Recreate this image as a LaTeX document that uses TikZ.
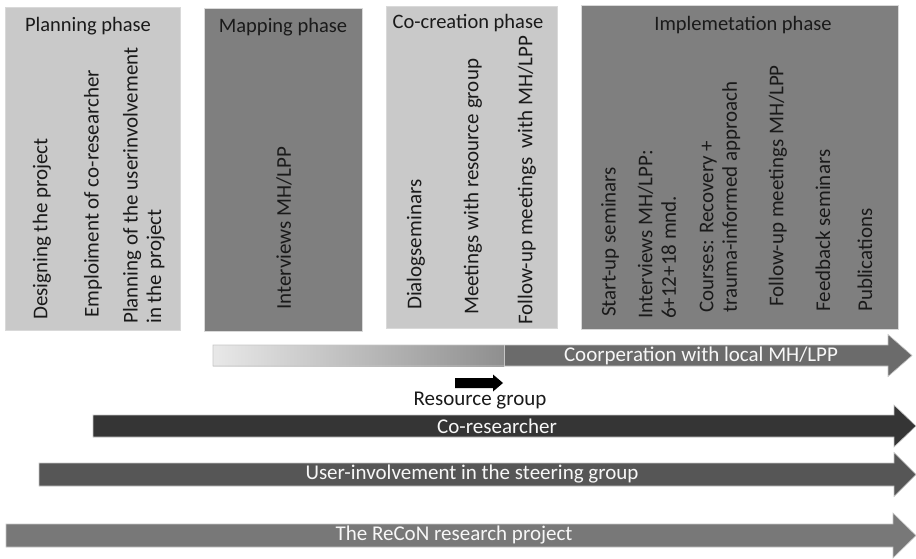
\documentclass[tikz,border=0pt]{standalone}
\usepackage{fontspec}
\setmainfont{Carlito}
\usetikzlibrary{positioning}
\definecolor{lightphase}{HTML}{C9C9C9}
\definecolor{darkphase}{HTML}{7F7F7F}
\definecolor{coopbar}{HTML}{6B6B6B}
\definecolor{cobar}{HTML}{353535}
\definecolor{userbar}{HTML}{565656}
\definecolor{reconbar}{HTML}{787878}
\definecolor{inktext}{HTML}{1A1A1A}
\tikzset{
  phasebox/.style={draw=gray!30, line width=0.8pt},
  phasetitle/.style={font=\fontsize{20.5}{24}\selectfont, text=inktext},
  activity/.style={rotate=90, anchor=west, align=left, inner sep=0pt,
    font=\fontsize{21}{23.5}\selectfont, text=inktext},
  barlabel/.style={font=\fontsize{21}{24}\selectfont, text=white!94!gray},
  baredge/.style={draw=gray!45, line width=0.6pt}
}
% block arrow: left, tip, mid y, half body, half head, head length, style
\newcommand{\bararrow}[7]{%
  \path[#7] (#1,#3-#4) -- (#2-#6,#3-#4) -- (#2-#6,#3-#5) -- (#2,#3)
    -- (#2-#6,#3+#5) -- (#2-#6,#3+#4) -- (#1,#3+#4) -- cycle;}

\begin{document}
\begin{tikzpicture}[x=1pt, y=-1pt]
  \useasboundingbox (0,0) rectangle (916,559);

  % phases
  \draw[phasebox, fill=lightphase] (5,7) rectangle (180,330);
  \draw[phasebox, fill=darkphase] (204,8) rectangle (362,331);
  \draw[phasebox, fill=lightphase] (386,6) rectangle (557,328);
  \draw[phasebox, fill=darkphase] (581,5) rectangle (898,329);

  \node[phasetitle] (planning) at (88,26) {Planning phase};
  \node[phasetitle] (mapping) at (283,27) {Mapping phase};
  \node[phasetitle] (cocreation) at (468,23) {Co-creation phase};
  \node[phasetitle] (implementation) at (743,25) {Implemetation phase};

  % activities
  \node[activity] (design) at (42,320) {Designing the project};
  \node[activity] (emploi) at (93,318) {Emploiment of co-researcher};
  \node[activity] (userplan) at (144,324) {Planning of the userinvolvement\\in the project};
  \node[activity] (mapint) at (284,310) {Interviews MH/LPP};
  \node[activity] (dialog) at (416,310) {Dialogseminars};
  \node[activity] (resmeet) at (473,315) {Meetings with resource group};
  \node[activity] (cofollow) at (527,325) {Follow-up meetings\ \ with MH/LPP};
  \node[activity] (startup) at (610,317) {Start-up seminars};
  \node[activity] (impint) at (657,319) {Interviews MH/LPP:\\6+12+18 mnd.};
  \node[activity] (courses) at (720,313) {Courses: Recovery +\\trauma-informed approach};
  \node[activity] (impfollow) at (778,307) {Follow-up meetings MH/LPP};
  \node[activity] (feedback) at (823,312) {Feedback seminars};
  \node[activity] (publ) at (865,312) {Publications};

  % cooperation bar
  \bararrow{213}{912}{355.5}{10.5}{21}{24}{fill=coopbar}
  \shade[left color=gray!18, right color=gray!88] (213,345) rectangle (504,366);
  \bararrow{213}{912}{355.5}{10.5}{21}{24}{baredge}
  \draw[gray!45, line width=0.6pt] (504,345) -- (504,366);
  \node[barlabel] (coop) at (701,356) {Coorperation with local MH/LPP};

  % resource group
  \bararrow{455}{503}{383}{5}{8.5}{10}{fill=black}
  \node[font=\fontsize{21}{24}\selectfont, text=inktext] (resource) at (480,401) {Resource group};

  % long bars
  \bararrow{93}{916}{426}{11}{21}{22}{fill=cobar, baredge}
  \node[barlabel] (cores) at (497,426) {Co-researcher};
  \bararrow{39}{916}{474.5}{11.5}{22}{22}{fill=userbar, baredge}
  \node[barlabel] (steering) at (472,474) {User-involvement in the steering group};
  \bararrow{6}{916}{535.5}{11.5}{22.5}{23}{fill=reconbar, baredge}
  \node[barlabel] (recon) at (454,535) {The ReCoN research project};
\end{tikzpicture}
\end{document}
